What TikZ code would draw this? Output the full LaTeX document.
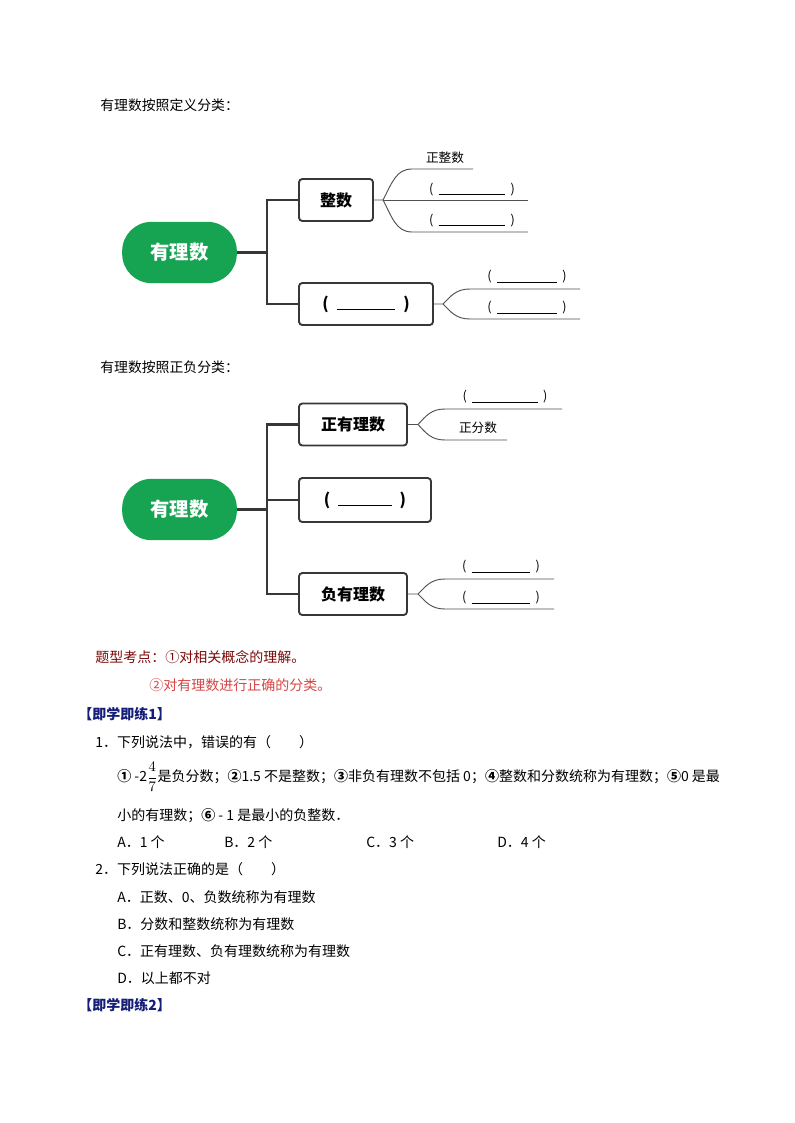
\documentclass[tikz,border=0pt]{standalone}
\usepackage{fontspec}
\setmainfont{Noto Sans CJK SC}
\definecolor{pillgreen}{RGB}{22,164,82}
\definecolor{darkline}{RGB}{55,55,55}
\definecolor{thinline}{RGB}{80,80,80}
\definecolor{maroon}{RGB}{122,10,10}
\definecolor{lightred}{RGB}{215,70,70}
\definecolor{navyblue}{RGB}{20,30,120}
\newcommand{\blank}[1]{(\hspace{4pt}\rule[-1pt]{#1}{0.5pt}\hspace{4pt})}
\newcommand{\bblank}[1]{(\hspace{6pt}\rule[-1pt]{#1}{0.9pt}\hspace{6pt})}
\newcommand{\cnum}[1]{{\bfseries #1}}
\begin{document}
\begin{tikzpicture}[x=0.75pt,y=-0.75pt,
  pill/.style={fill=pillgreen,draw=none,rounded corners=22pt,minimum width=86pt,minimum height=46pt,text=white,font=\bfseries\fontsize{14.5}{16}\selectfont},
  catbox/.style={draw=darkline,line width=1.4pt,rounded corners=2.5pt,fill=white,minimum height=31.5pt,font=\bfseries\fontsize{12}{14}\selectfont},
  trunk/.style={draw=darkline,line width=2.2pt},
  twig/.style={draw=thinline,line width=0.7pt},
  leaf/.style={font=\fontsize{9.5}{11}\selectfont,inner sep=1pt},
  para/.style={anchor=west,inner sep=0pt,font=\fontsize{10.5}{13}\selectfont},
  headtxt/.style={anchor=west,inner sep=0pt,font=\fontsize{10.4}{12}\selectfont}
]
\useasboundingbox (0,0) rectangle (794,1123);
\fill[white] (0,0) rectangle (794,1123);

% ---------- Diagram 1 ----------
\node[headtxt] (title1) at (100,105) {有理数按照定义分类：};
\node[pill] (r1) at (179.5,252.5) {有理数};
\node[catbox,minimum width=55.5pt] (zs) at (336,200) {整数};
\node[catbox,minimum width=100.5pt] (bx2) at (366,304) {\bblank{44pt}};
\coordinate (j1) at (267,252.5);
\draw[trunk] (r1.east) -- (j1);
\draw[trunk,line join=miter] (zs.west) -| (j1) |- (bx2.west);

\coordinate (b1) at (383,200);
\coordinate (u1) at (473,169);
\coordinate (m1) at (528,200);
\coordinate (d1) at (528,232);
\draw[twig] (zs.east) -- (b1) .. controls (392,183) and (396,169) .. (412,169) -- (u1);
\draw[twig] (b1) -- (m1);
\draw[twig] (b1) .. controls (392,217) and (396,232) .. (412,232) -- (d1);
\node[leaf] (l1) at (445,158) {正整数};
\node[leaf] (l2) at (472,189.5) {\blank{50pt}};
\node[leaf] (l3) at (472,220.5) {\blank{50pt}};

\coordinate (b2) at (443,304);
\coordinate (u2) at (580,289);
\coordinate (d2) at (580,319);
\draw[twig] (bx2.east) -- (b2) .. controls (451,296) and (456,289) .. (470,289) -- (u2);
\draw[twig] (b2) .. controls (451,312) and (456,319) .. (470,319) -- (d2);
\node[leaf] (l4) at (527,277) {\blank{45pt}};
\node[leaf] (l5) at (527,308) {\blank{45pt}};

% ---------- Diagram 2 ----------
\node[headtxt] (title2) at (100,367) {有理数按照正负分类：};
\node[pill] (r2) at (179.5,509.5) {有理数};
\node[catbox,minimum width=81pt] (pos) at (353,424.5) {正有理数};
\node[catbox,minimum width=99pt,minimum height=33pt] (zero) at (365,500) {\bblank{40pt}};
\node[catbox,minimum width=81pt] (neg) at (353,594) {负有理数};
\coordinate (j2) at (267,509.5);
\coordinate (j2m) at (267,500);
\draw[trunk] (r2.east) -- (j2);
\draw[trunk,line join=miter] (pos.west) -| (j2) |- (neg.west);
\draw[trunk] (j2m) -- (zero.west);

\coordinate (b3) at (418,424.5);
\coordinate (u3) at (562,409);
\coordinate (d3) at (507,440);
\draw[twig] (pos.east) -- (b3) .. controls (426,416) and (431,409) .. (445,409) -- (u3);
\draw[twig] (b3) .. controls (426,433) and (431,440) .. (445,440) -- (d3);
\node[leaf] (l6) at (505,397) {\blank{49pt}};
\node[leaf] (l7) at (478,428) {正分数};

\coordinate (b4) at (418,594);
\coordinate (u4) at (554,579);
\coordinate (d4) at (554,609);
\draw[twig] (neg.east) -- (b4) .. controls (426,586) and (431,579) .. (445,579) -- (u4);
\draw[twig] (b4) .. controls (426,602) and (431,609) .. (445,609) -- (d4);
\node[leaf] (l8) at (501,567) {\blank{44pt}};
\node[leaf] (l9) at (501,598) {\blank{44pt}};

% ---------- Text ----------
\node[para,text=maroon] (t1) at (95,657) {题型考点：①对相关概念的理解。};
\node[para,text=lightred] (t2) at (149,685) {②对有理数进行正确的分类。};
\node[para,text=navyblue,font=\bfseries\fontsize{10.5}{13}\selectfont] (h1) at (78,714) {【即学即练1】};
\node[para] (q1) at (95,742) {1．下列说法中，错误的有（\hspace{2em}）};
\node[para] (q1a) at (117,777) {\cnum{①} -2$\displaystyle\frac{4}{7}$是负分数；\cnum{②}1.5 不是整数；\cnum{③}非负有理数不包括 0；\cnum{④}整数和分数统称为有理数；\cnum{⑤}0 是最};
\node[para] (q1b) at (117,816) {小的有理数；\cnum{⑥} - 1 是最小的负整数．};
\node[para] (oA) at (117,842) {A．1 个};
\node[para] (oB) at (224,842) {B．2 个};
\node[para] (oC) at (366,842) {C．3 个};
\node[para] (oD) at (497,842) {D．4 个};
\node[para] (q2) at (95,869) {2．下列说法正确的是（\hspace{2em}）};
\node[para] (q2A) at (117,897) {A．正数、0、负数统称为有理数};
\node[para] (q2B) at (117,924) {B．分数和整数统称为有理数};
\node[para] (q2C) at (117,951) {C．正有理数、负有理数统称为有理数};
\node[para] (q2D) at (117,978) {D．以上都不对};
\node[para,text=navyblue,font=\bfseries\fontsize{10.5}{13}\selectfont] (h2) at (78,1005) {【即学即练2】};
\end{tikzpicture}
\end{document}
